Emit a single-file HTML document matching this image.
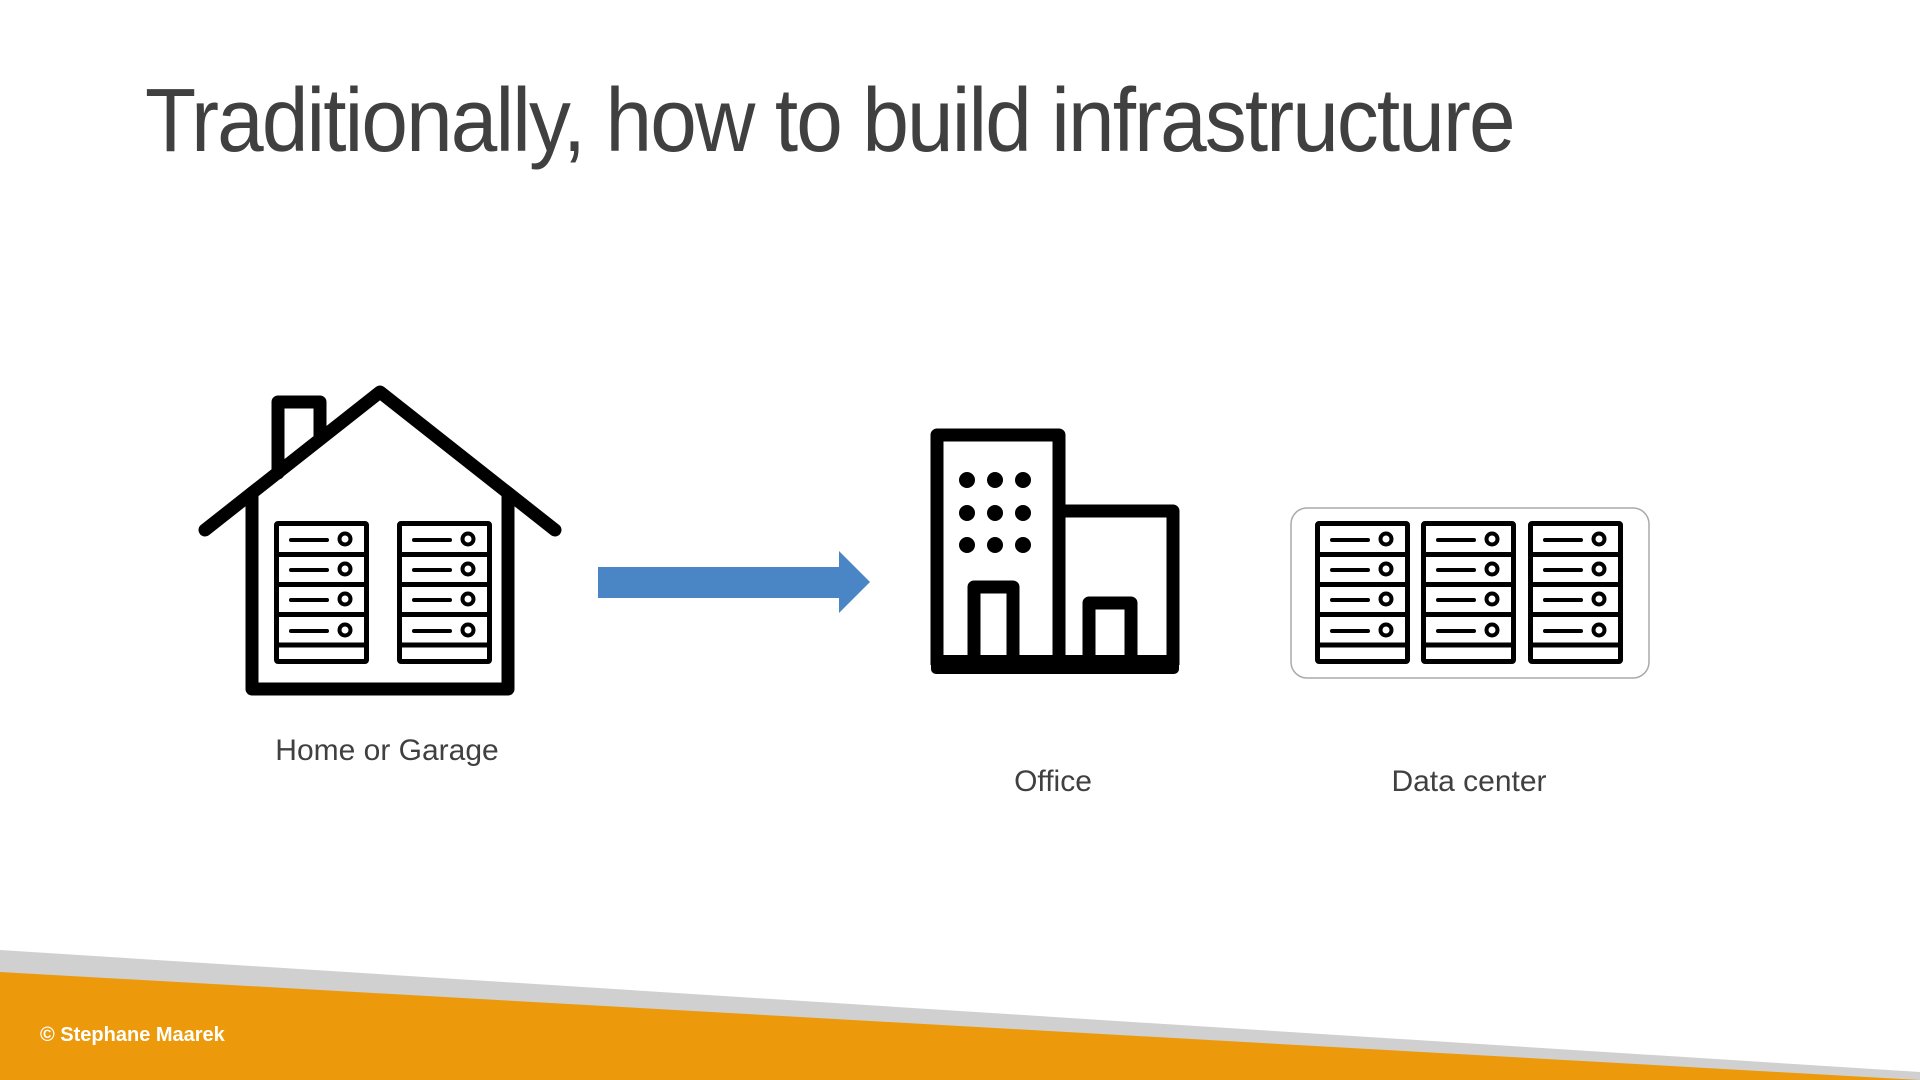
<!DOCTYPE html>
<html><head><meta charset="utf-8"><style>
html,body{margin:0;padding:0;background:#fff;}
body{width:1920px;height:1080px;position:relative;overflow:hidden;font-family:"Liberation Sans",sans-serif;}
.t{position:absolute;left:145px;top:70px;font-size:90px;color:#404040;white-space:nowrap;transform-origin:0 0;transform:scaleX(0.93);letter-spacing:-2px;}
.l{position:absolute;font-size:30px;color:#404040;transform:translateX(-50%);white-space:nowrap;}
</style></head><body>
<div class="t">Traditionally, how to build infrastructure</div>
<svg width="1920" height="1080" style="position:absolute;left:0;top:0">
<defs>
<g id="rack">
<rect x="2.5" y="2.5" width="90" height="138" fill="none" stroke="#000" stroke-width="5" rx="1.5"/>
<g stroke="#000" stroke-width="5"><line x1="2" y1="33.5" x2="93" y2="33.5"/><line x1="2" y1="63.5" x2="93" y2="63.5"/><line x1="2" y1="93.5" x2="93" y2="93.5"/><line x1="2" y1="124" x2="93" y2="124"/></g>
<g stroke="#000" stroke-width="4" stroke-linecap="round" fill="none">
<line x1="17" y1="19" x2="53" y2="19"/><circle cx="71" cy="18" r="5.5"/>
<line x1="17" y1="49" x2="53" y2="49"/><circle cx="71" cy="48" r="5.5"/>
<line x1="17" y1="79" x2="53" y2="79"/><circle cx="71" cy="78" r="5.5"/>
<line x1="17" y1="110" x2="53" y2="110"/><circle cx="71" cy="109" r="5.5"/>
</g>
</g>
</defs>
<!-- house -->
<g fill="none" stroke="#000" stroke-width="13" stroke-linejoin="round" stroke-linecap="round">
<path d="M205,530 L380,392 L555,530"/>
<path d="M252,493 V689 H508 V493"/>
<path d="M278,473 V402 H320 V439"/>
</g>
<use href="#rack" x="274" y="521"/>
<use href="#rack" x="397" y="521"/>
<!-- arrow -->
<polygon points="598,567 839,567 839,551 870,582 839,613 839,598 598,598" fill="#4a86c5"/>
<!-- office -->
<g fill="none" stroke="#000" stroke-width="13" stroke-linejoin="round">
<path d="M937,665 V435 H1059 V665"/>
<path d="M1059,511 H1173 V665"/>
<path d="M974,665 V587 H1013 V665"/>
<path d="M1089,665 V603 H1131 V665"/>
</g>
<rect x="931" y="655" width="248" height="19" rx="5" fill="#000"/>
<g fill="#000">
<circle cx="967" cy="480" r="8"/><circle cx="995" cy="480" r="8"/><circle cx="1023" cy="480" r="8"/>
<circle cx="967" cy="513" r="8"/><circle cx="995" cy="513" r="8"/><circle cx="1023" cy="513" r="8"/>
<circle cx="967" cy="545" r="8"/><circle cx="995" cy="545" r="8"/><circle cx="1023" cy="545" r="8"/>
</g>
<!-- data center -->
<rect x="1291" y="508" width="358" height="170" rx="16" fill="#fff" stroke="#aaa" stroke-width="1.5"/>
<use href="#rack" x="1315" y="521"/>
<use href="#rack" x="1421" y="521"/>
<use href="#rack" x="1528" y="521"/>
<!-- footer -->
<polygon points="0,950 1920,1072 1920,1080 0,1080" fill="#d0d0d0"/>
<polygon points="0,972 1920,1080 0,1080" fill="#ec9a0b"/>
</svg>
<div class="l" style="left:387px;top:734px">Home or Garage</div>
<div class="l" style="left:1053px;top:765px">Office</div>
<div class="l" style="left:1469px;top:765px">Data center</div>
<div style="position:absolute;left:40px;top:1024px;font-size:20px;color:#fff;font-weight:bold;">© Stephane Maarek</div>
</body></html>
